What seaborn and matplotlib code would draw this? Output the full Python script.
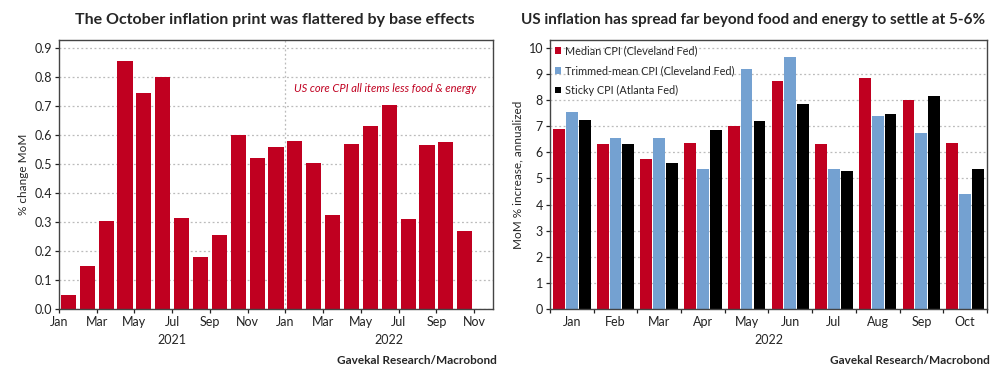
import numpy as np
import pandas as pd
import matplotlib.pyplot as plt
import seaborn as sns

# --- DATA ---
CORE_MONTHS = ["Jan", "Feb", "Mar", "Apr", "May", "Jun", "Jul", "Aug", "Sep", "Oct", "Nov", "Dec",
               "Jan", "Feb", "Mar", "Apr", "May", "Jun", "Jul", "Aug", "Sep", "Oct"]
CORE_YEARS = [2021] * 12 + [2022] * 10
CORE_MOM = [0.05, 0.15, 0.305, 0.855, 0.745, 0.80, 0.315, 0.18, 0.255, 0.60, 0.52, 0.56,
            0.58, 0.505, 0.325, 0.57, 0.63, 0.705, 0.31, 0.565, 0.575, 0.27]

MONTHS_2022 = ["Jan", "Feb", "Mar", "Apr", "May", "Jun", "Jul", "Aug", "Sep", "Oct"]
SERIES = ["Median CPI (Cleveland Fed)", "Trimmed-mean CPI (Cleveland Fed)", "Sticky CPI (Atlanta Fed)"]
MEDIAN_CPI = [6.9, 6.3, 5.75, 6.35, 7.0, 8.75, 6.3, 8.85, 8.0, 6.35]
TRIMMED_CPI = [7.55, 6.55, 6.55, 5.35, 9.2, 9.65, 5.35, 7.4, 6.75, 4.4]
STICKY_CPI = [7.25, 6.3, 5.6, 6.85, 7.2, 7.85, 5.3, 7.45, 8.15, 5.35]

RED = "#C00020"
BLUE = "#74A1D1"
BLACK = "#000000"
GRID = "#BBBBBB"
SPINE = "#444444"

sns.set_theme(style="white")
plt.rcParams["font.family"] = ["Lato", "DejaVu Sans"]


def style_axes(ax):
    for s in ax.spines.values():
        s.set_visible(True)
        s.set_color(SPINE)
        s.set_linewidth(1.0)
    ax.yaxis.grid(True, linestyle=(0, (1.5, 2)), color=GRID, linewidth=0.9)
    ax.xaxis.grid(False)
    ax.set_axisbelow(True)
    ax.tick_params(axis="both", which="both", direction="out", length=3, width=0.9,
                   colors="#222222", labelsize=9, pad=2)
    ax.tick_params(axis="both", which="both", bottom=True, left=True)


fig = plt.figure(figsize=(10.08, 3.78), dpi=100)

# --- LEFT: core CPI MoM ---
ax1 = fig.add_axes([0.0585, 0.1825, 0.4306, 0.7116])
core = pd.DataFrame({"pos": range(len(CORE_MOM)), "value": CORE_MOM})
sns.barplot(data=core, x="pos", y="value", color=RED, width=0.8, saturation=1, linewidth=0, ax=ax1)
style_axes(ax1)
ax1.set_xlim(-0.5, 22.5)
ax1.set_ylim(0, 0.928)
yt = np.arange(0, 0.95, 0.1)
ax1.set_yticks(yt)
ax1.set_yticklabels([f"{v:.1f}" for v in yt])
ax1.set_xticks(np.arange(0, 23, 2) - 0.5)
ax1.set_xticklabels([CORE_MONTHS[i % 12] if i < 22 else "Nov" for i in range(0, 23, 2)])
ax1.axvline(11.5, color=GRID, linestyle=(0, (1.5, 2)), linewidth=0.9, zorder=0)
ax1.set_xlabel("")
ax1.set_ylabel("% change MoM", fontsize=8.5, labelpad=4)
ax1.text(21.6, 0.76, "US core CPI all items less food & energy", color=RED,
         fontstyle="italic", fontsize=8, ha="right", va="center")
ax1.text(5.5, -0.086, "2021", ha="center", va="top", fontsize=9)
ax1.text(17, -0.086, "2022", ha="center", va="top", fontsize=9)
fig.text(0.273, 0.947, "The October inflation print was flattered by base effects",
         ha="center", va="center", fontsize=11.5, fontweight="bold")

# --- RIGHT: alternative CPI measures ---
ax2 = fig.add_axes([0.5456, 0.1825, 0.4335, 0.7116])
alt = pd.DataFrame({
    "month": MONTHS_2022 * 3,
    "series": [SERIES[0]] * 10 + [SERIES[1]] * 10 + [SERIES[2]] * 10,
    "value": MEDIAN_CPI + TRIMMED_CPI + STICKY_CPI,
})
sns.barplot(data=alt, x="month", y="value", hue="series", order=MONTHS_2022, hue_order=SERIES,
            palette=[RED, BLUE, BLACK], width=0.88, gap=0.08, saturation=1, linewidth=0, ax=ax2)
style_axes(ax2)
ax2.set_xlim(-0.5, 9.5)
ax2.set_ylim(0, 10.3)
ax2.set_yticks(range(0, 11))
ax2.set_xticks(range(10))
ax2.set_xticklabels(MONTHS_2022)
ax2.set_xticks(np.arange(-0.5, 10, 1), minor=True)
ax2.tick_params(axis="x", which="major", length=0, pad=5)
ax2.tick_params(axis="x", which="minor", length=3)
ax2.set_xlabel("")
ax2.set_ylabel("MoM % increase, annualized", fontsize=8.5, labelpad=4)
ax2.text(4.5, -0.96, "2022", ha="center", va="top", fontsize=9)
handles, labels = ax2.get_legend_handles_labels()
ax2.legend(handles, labels, loc="upper left", frameon=False, fontsize=7.8,
           handlelength=0.55, handleheight=0.55, handletextpad=0.3, labelspacing=0.8,
           borderaxespad=0.3, borderpad=0.2)
fig.text(0.747, 0.947, "US inflation has spread far beyond food and energy to settle at 5-6%",
         ha="center", va="center", fontsize=11, fontweight="bold")

fig.text(0.493, 0.045, "Gavekal Research/Macrobond", ha="right", va="center",
         fontsize=8.5, fontweight="bold")
fig.text(0.982, 0.045, "Gavekal Research/Macrobond", ha="right", va="center",
         fontsize=8.5, fontweight="bold")

fig.savefig("out.png", dpi=100)
